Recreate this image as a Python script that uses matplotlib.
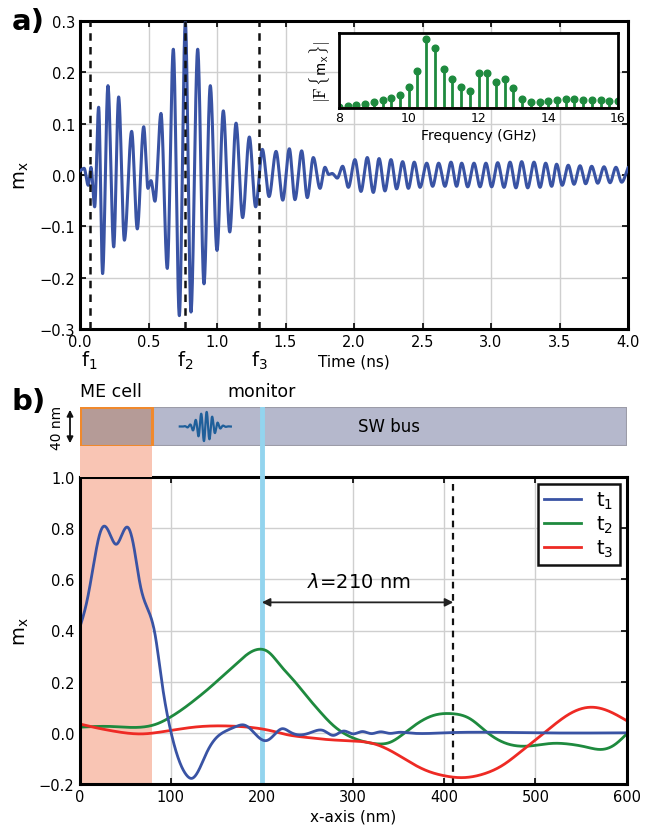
import numpy as np
import matplotlib
matplotlib.use("Agg")
import matplotlib.pyplot as plt
from matplotlib.patches import Rectangle, FancyArrowPatch
from matplotlib.lines import Line2D
from matplotlib.transforms import blended_transform_factory
from matplotlib.ticker import FuncFormatter

plt.rcParams['font.family'] = ['DejaVu Sans']

# ---------------- panel a: m_x(t) at the monitor (turning points of the trace) -------------
time_ns = [0.0, 0.03, 0.06, 0.08, 0.107, 0.136, 0.165, 0.204, 0.246, 0.282, 0.324, 0.377,
           0.418, 0.465, 0.496, 0.518, 0.547, 0.591, 0.637, 0.681, 0.725, 0.769, 0.810,
           0.859, 0.905, 0.951, 1.000, 1.046, 1.093, 1.139, 1.187, 1.236, 1.282, 1.331,
           1.380, 1.431, 1.480, 1.528, 1.569, 1.618, 1.659, 1.703, 1.752, 1.788, 1.815,
           1.840, 1.878, 1.917, 1.959, 2.007, 2.051, 2.097, 2.141, 2.183, 2.226, 2.270,
           2.311, 2.355, 2.397, 2.440, 2.482, 2.531, 2.574, 2.618, 2.664, 2.708, 2.749,
           2.786, 2.830, 2.876, 2.920, 2.963, 3.005, 3.049, 3.095, 3.139, 3.182, 3.224,
           3.268, 3.314, 3.358, 3.399, 3.443, 3.479, 3.520, 3.564, 3.606, 3.650, 3.691,
           3.735, 3.779, 3.825, 3.869, 3.912, 3.954, 4.0]
mx_time = [0.008, 0.013, -0.020, 0.015, -0.062, 0.132, -0.192, 0.174, -0.140, 0.152, -0.127,
           0.085, -0.105, 0.094, -0.026, -0.011, -0.051, 0.120, -0.182, 0.245, -0.274, 0.298,
           -0.267, 0.245, -0.212, 0.174, -0.147, 0.125, -0.111, 0.101, -0.083, 0.074, -0.062,
           0.050, -0.042, 0.046, -0.049, 0.051, -0.048, 0.047, -0.044, 0.034, -0.026, 0.015,
           0.001, 0.003, -0.006, 0.017, -0.024, 0.030, -0.032, 0.034, -0.034, 0.032, -0.031,
           0.030, -0.027, 0.026, -0.026, 0.025, -0.024, 0.023, -0.022, 0.023, -0.022, 0.025,
           -0.022, 0.023, -0.023, 0.023, -0.023, 0.023, -0.023, 0.024, -0.024, 0.025, -0.025,
           0.026, -0.025, 0.025, -0.024, 0.023, -0.022, 0.021, -0.020, 0.019, -0.018, 0.018,
           -0.017, 0.017, -0.016, 0.016, -0.015, 0.015, -0.014, 0.014]
snapshot_times = [0.07, 0.77, 1.31]
snapshot_labels = ['f$_1$', 'f$_2$', 'f$_3$']

# spectrum |F{m_x}|
freq_ghz = np.arange(8.0, 16.01, 0.25)
spectrum = [0.01, 0.02, 0.035, 0.055, 0.075, 0.10, 0.13, 0.175, 0.28, 0.49, 0.92, 0.80,
            0.52, 0.38, 0.27, 0.22, 0.47, 0.46, 0.34, 0.39, 0.26, 0.11, 0.075, 0.08, 0.095,
            0.105, 0.11, 0.11, 0.105, 0.10, 0.10, 0.09, 0.085]

# ---------------- panel b: m_x(x) snapshots ----------------
x_t1 = [0, 8, 15.4, 21, 26.3, 33.7, 40.2, 46.5, 52.6, 59.2, 66.6, 74.6, 83, 90.3, 99.5,
        108.6, 117.8, 123.2, 130.5, 139.7, 150.7, 161.6, 172.6, 180, 187.2, 196.3, 205.5,
        214.6, 222, 231, 238.4, 249.3, 256.6, 267.5, 278.5, 289.5, 300, 310, 320, 330, 340,
        350, 360, 400, 500, 600]
m_t1 = [0.408, 0.512, 0.656, 0.761, 0.807, 0.774, 0.737, 0.774, 0.804, 0.735, 0.578, 0.486,
        0.382, 0.199, 0.016, -0.102, -0.167, -0.178, -0.148, -0.076, -0.017, 0.009, 0.026,
        0.031, 0.016, -0.017, -0.030, -0.004, 0.016, 0.003, -0.007, -0.004, 0.005, 0.009,
        -0.010, 0.007, -0.004, 0.005, -0.003, 0.004, -0.002, 0.002, 0.0, 0.0, 0.0, 0.0]
x_t2 = [0, 33.7, 75.7, 84.9, 99.5, 114, 128.7, 143.3, 157.9, 172.6, 185.3, 198, 207.2, 220,
        235, 250, 262, 278, 293, 307.8, 326, 340.7, 355.3, 370, 388.2, 408.3, 428.4, 446.7,
        464.9, 483.2, 497.8, 519.8, 534.4, 556.4, 571, 585.5, 600]
m_t2 = [0.022, 0.025, 0.026, 0.035, 0.061, 0.095, 0.135, 0.178, 0.225, 0.272, 0.310, 0.327,
        0.316, 0.265, 0.205, 0.140, 0.090, 0.030, -0.008, -0.030, -0.043, -0.037, -0.004,
        0.035, 0.068, 0.075, 0.055, 0.003, -0.037, -0.052, -0.050, -0.041, -0.043, -0.056,
        -0.065, -0.050, -0.005]
x_t3 = [0, 15.4, 33.7, 52, 70.2, 88.5, 106.8, 125, 147, 169, 190.8, 209, 227.3, 249.3,
        271.2, 300.4, 320, 344.3, 362.6, 380.9, 399.1, 421, 443, 464.9, 483.2, 501.5, 519.8,
        538, 560, 578.3, 600]
m_t3 = [0.035, 0.022, 0.009, -0.001, -0.004, 0.003, 0.013, 0.022, 0.027, 0.026, 0.020, 0.009,
        -0.007, -0.018, -0.026, -0.032, -0.040, -0.076, -0.115, -0.148, -0.167, -0.175,
        -0.161, -0.125, -0.076, -0.024, 0.029, 0.075, 0.100, 0.088, 0.048]
legend_labels = ['t$_1$', 't$_2$', 't$_3$']
me_cell_nm = 80
monitor_nm = 200
lambda_end_nm = 410


def pchip(x, y, xq):
    """Shape-preserving piecewise cubic through (x, y)."""
    x = np.asarray(x, float)
    y = np.asarray(y, float)
    h = np.diff(x)
    d = np.diff(y) / h
    m = np.zeros_like(y)
    for k in range(1, len(x) - 1):
        if d[k - 1] * d[k] > 0:
            w1 = 2 * h[k] + h[k - 1]
            w2 = h[k] + 2 * h[k - 1]
            m[k] = (w1 + w2) / (w1 / d[k - 1] + w2 / d[k])
    m[0] = d[0]
    m[-1] = d[-1]
    idx = np.clip(np.searchsorted(x, xq) - 1, 0, len(h) - 1)
    s = (xq - x[idx]) / h[idx]
    h00 = 2 * s**3 - 3 * s**2 + 1
    h10 = s**3 - 2 * s**2 + s
    h01 = -2 * s**3 + 3 * s**2
    h11 = s**3 - s**2
    return h00 * y[idx] + h10 * h[idx] * m[idx] + h01 * y[idx + 1] + h11 * h[idx] * m[idx + 1]


def spline(x, y, xq):
    """Natural cubic spline through (x, y)."""
    x = np.asarray(x, float)
    y = np.asarray(y, float)
    n = len(x)
    h = np.diff(x)
    A = np.zeros((n, n))
    b = np.zeros(n)
    A[0, 0] = A[-1, -1] = 1.0
    for i in range(1, n - 1):
        A[i, i - 1] = h[i - 1]
        A[i, i] = 2 * (h[i - 1] + h[i])
        A[i, i + 1] = h[i]
        b[i] = 6 * ((y[i + 1] - y[i]) / h[i] - (y[i] - y[i - 1]) / h[i - 1])
    M = np.linalg.solve(A, b)
    idx = np.clip(np.searchsorted(x, xq) - 1, 0, n - 2)
    x0, x1 = x[idx], x[idx + 1]
    hh = h[idx]
    return (M[idx] * (x1 - xq) ** 3 / (6 * hh) + M[idx + 1] * (xq - x0) ** 3 / (6 * hh)
            + (y[idx] / hh - M[idx] * hh / 6) * (x1 - xq)
            + (y[idx + 1] / hh - M[idx + 1] * hh / 6) * (xq - x0))


W, H = 652, 829
fig = plt.figure(figsize=(W / 100, H / 100), dpi=100)


def fbox(x0, y0, x1, y1):
    return [x0 / W, 1 - y1 / H, (x1 - x0) / W, (y1 - y0) / H]


fmt1 = FuncFormatter(lambda v, p: ('%.1f' % v).replace('-', '\u2212'))
grid_kw = dict(color='#cfcfcf', lw=1.0)
SPINE = 2.2

# ---------------- panel a ----------------
ax1 = fig.add_axes(fbox(80, 22, 628, 330))
tt = np.linspace(0, 4, 4000)
ax1.plot(tt, pchip(time_ns, mx_time, tt), color='#3953a4', lw=2.2, zorder=3)
for ts in snapshot_times:
    ax1.axvline(ts, color='#111111', lw=1.8, ls=(0, (3, 2.5)), zorder=4)
ax1.set_xlim(0, 4)
ax1.set_ylim(-0.3, 0.3)
ax1.set_xticks(np.arange(0, 4.01, 0.5))
ax1.set_yticks(np.arange(-0.3, 0.31, 0.1))
ax1.xaxis.set_major_formatter(fmt1)
ax1.yaxis.set_major_formatter(fmt1)
ax1.grid(True, **grid_kw)
ax1.set_axisbelow(True)
ax1.tick_params(direction='in', top=True, right=True, length=4, width=1.2, labelsize=10.5)
for sp in ax1.spines.values():
    sp.set_linewidth(SPINE)
ax1.set_xlabel('Time (ns)', fontsize=11, labelpad=3)
ax1.set_ylabel('m$_\\mathrm{x}$', fontsize=14, labelpad=6)
tr1 = blended_transform_factory(ax1.transData, ax1.transAxes)
for ts, lab in zip(snapshot_times, snapshot_labels):
    ax1.text(ts, -0.10, lab, transform=tr1, ha='center', va='center', fontsize=14)
fig.text(12 / W, 1 - 22 / H, 'a)', fontsize=21, fontweight='bold', va='center')

# inset spectrum
axi = fig.add_axes(fbox(339, 34, 618, 109))
ml, sl, bl = axi.stem(freq_ghz, spectrum)
plt.setp(sl, color='#1e8a3e', lw=2.0)
plt.setp(ml, color='#1e8a3e', marker='o', markersize=4.8)
plt.setp(bl, color='#b83a2e', lw=1.3)
axi.set_xlim(8, 16)
axi.set_ylim(-0.005, 1.0)
axi.set_xticks([8, 10, 12, 14, 16])
axi.set_yticks([])
axi.tick_params(direction='in', length=3, labelsize=9, pad=2)
for sp in axi.spines.values():
    sp.set_linewidth(2.0)
axi.set_xlabel('Frequency (GHz)', fontsize=10, labelpad=3)
axi.set_ylabel(r'$|\mathrm{F}\,\{\mathsf{m}_\mathsf{x}\}|$', fontsize=12,
               math_fontfamily='cm', labelpad=4)

# ---------------- panel b ----------------
ax2 = fig.add_axes(fbox(79.5, 478, 626.5, 785))
xx = np.linspace(0, 600, 3000)
ax2.axvspan(0, me_cell_nm, color='#f9c5b4', lw=0, zorder=1)
ax2.axvline(monitor_nm, color='#93d4ee', lw=3.5, zorder=1.5)
ax2.axvline(lambda_end_nm, color='#111111', lw=1.6, ls=(0, (3, 2.5)), zorder=1.6)
h1, = ax2.plot(xx, spline(x_t1, m_t1, xx), color='#3953a4', lw=2.0, zorder=3)
h2, = ax2.plot(xx, spline(x_t2, m_t2, xx), color='#1e8a3e', lw=2.0, zorder=2.8)
h3, = ax2.plot(xx, spline(x_t3, m_t3, xx), color='#ee2a24', lw=2.0, zorder=2.9)
ax2.set_xlim(0, 600)
ax2.set_ylim(-0.2, 1.0)
ax2.set_xticks(np.arange(0, 601, 100))
ax2.set_yticks(np.arange(-0.2, 1.01, 0.2))
ax2.yaxis.set_major_formatter(fmt1)
ax2.grid(True, **grid_kw)
ax2.set_axisbelow(True)
ax2.tick_params(direction='in', top=True, right=True, length=4, width=1.2, labelsize=10.5)
for sp in ax2.spines.values():
    sp.set_linewidth(SPINE)
    sp.set_zorder(5)
ax2.set_xlabel('x-axis (nm)', fontsize=11, labelpad=3)
ax2.set_ylabel('m$_\\mathrm{x}$', fontsize=14, labelpad=6)
ax2.annotate('', xy=(monitor_nm, 0.51), xytext=(lambda_end_nm, 0.51),
             arrowprops=dict(arrowstyle='<|-|>', lw=1.3, color='#222222',
                             mutation_scale=12, shrinkA=0, shrinkB=0), zorder=4)
ax2.text((monitor_nm + lambda_end_nm) / 2 + 2, 0.59,
         r'$\lambda$=%d nm' % (lambda_end_nm - monitor_nm),
         ha='center', va='center', fontsize=14, zorder=4)
leg = ax2.legend([h1, h2, h3], legend_labels, loc='upper right', fontsize=14,
                 frameon=True, fancybox=False, framealpha=1, edgecolor='#111111',
                 handlelength=1.9, handletextpad=0.8, borderaxespad=0.35,
                 labelspacing=0.15, borderpad=0.3)
leg.get_frame().set_linewidth(1.8)
leg.set_zorder(6)

# device sketch above panel b
axs = fig.add_axes(fbox(79.5, 408, 626.5, 447))
axs.set_xlim(0, 600)
axs.set_ylim(0, 1)
axs.axis('off')
axs.add_patch(Rectangle((0, 0), 600, 1, fc='#b5b8cc', ec='#9c9ca8', lw=1.5))
axs.add_patch(Rectangle((0, 0), me_cell_nm, 1, fc='#b59b97', ec='#f0892c', lw=2.2, zorder=2))
axs.axvline(monitor_nm, color='#93d4ee', lw=3.5, zorder=3)
u = np.linspace(-1, 1, 400)
axs.plot(138 + 28 * u, 0.5 + 0.38 * np.exp(-(u / 0.42) ** 2) * np.sin(2 * np.pi * 4.6 * u),
         color='#1f5f9a', lw=1.6, zorder=3)
axs.text(340, 0.5, 'SW bus', ha='center', va='center', fontsize=12)
axs.text(1, 1.18, 'ME cell', ha='left', va='bottom', fontsize=12.5)
axs.text(monitor_nm, 1.18, 'monitor', ha='center', va='bottom', fontsize=12.5)

# shaded cell and monitor line through the gap between sketch and axes
trg = blended_transform_factory(ax2.transData, fig.transFigure)
fig.add_artist(Rectangle((0, 1 - 478 / H), me_cell_nm, (478 - 447) / H, transform=trg,
                         fc='#f9c5b4', lw=0))
fig.add_artist(Line2D([monitor_nm, monitor_nm], [1 - 478 / H, 1 - 447 / H], transform=trg,
                      color='#93d4ee', lw=3.5))

fig.text(57 / W, 1 - 428 / H, '40 nm', rotation=90, fontsize=10, ha='center', va='center')
fig.add_artist(FancyArrowPatch((70 / W, 1 - 408 / H), (70 / W, 1 - 447 / H),
                               transform=fig.transFigure, arrowstyle='<|-|>',
                               mutation_scale=9, lw=1.3, color='#111111'))
fig.text(12 / W, 1 - 402 / H, 'b)', fontsize=21, fontweight='bold', va='center')

fig.savefig('out.png', dpi=100)
